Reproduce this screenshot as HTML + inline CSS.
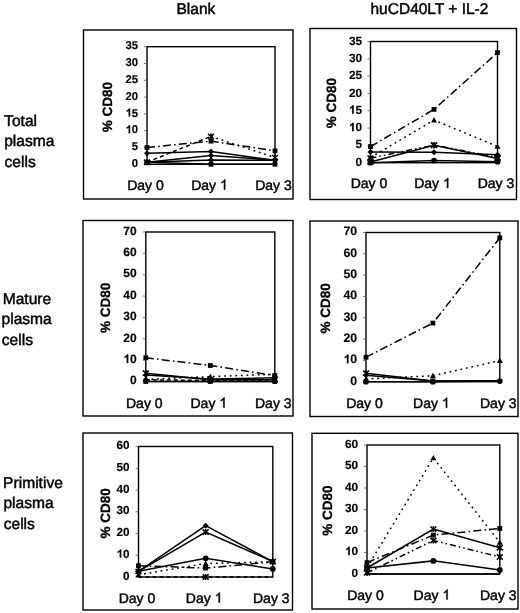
<!DOCTYPE html>
<html><head><meta charset="utf-8"><title>CD80 plasma cells</title>
<style>
html,body{margin:0;padding:0;background:#fff;}
body{width:520px;height:613px;overflow:hidden;}
svg{display:block;will-change:transform;}
text{font-family:"Liberation Sans", sans-serif;fill:#000;stroke:#000;stroke-width:0.45px;text-rendering:geometricPrecision;}
.hd{font-size:15.5px;}
.rl{font-size:15.6px;}
.xl{font-size:14px;text-anchor:middle;}
.yl{font-weight:bold;text-anchor:end;stroke-width:0.15px;}
.yt{font-size:13.5px;font-weight:bold;text-anchor:middle;stroke-width:0.3px;}
</style></head><body>
<svg width="520" height="613" viewBox="0 0 520 613">
<rect width="520" height="613" fill="#fff"/>

<text x="176.5" y="13.5" class="hd">Blank</text>
<text x="370.5" y="13.5" class="hd">huCD40LT + IL-2</text>
<text x="4.1" y="125.5" class="rl">Total</text>
<text x="4.2" y="146.1" class="rl">plasma</text>
<text x="4.5" y="166.9" class="rl">cells</text>
<text x="2.7" y="303.6" class="rl">Mature</text>
<text x="1.5" y="324.2" class="rl">plasma</text>
<text x="1.8" y="344.5" class="rl">cells</text>
<text x="3.1" y="487.9" class="rl">Primitive</text>
<text x="3.4" y="508.2" class="rl">plasma</text>
<text x="3.7" y="528.6" class="rl">cells</text>
<rect x="83.5" y="30" width="209.50" height="169.00" fill="none" stroke="#000" stroke-width="1.4"/>
<rect x="147" y="46.7" width="128.00" height="117.60" fill="none" stroke="#000" stroke-width="1.4"/>
<line x1="144.00" y1="164.30" x2="147.00" y2="164.30" stroke="#555" stroke-width="0.8"/>
<text x="138.10" y="166.90" class="yl" style="font-size:11.3px">0</text>
<line x1="144.00" y1="147.50" x2="147.00" y2="147.50" stroke="#555" stroke-width="0.8"/>
<text x="138.10" y="150.10" class="yl" style="font-size:11.3px">5</text>
<line x1="144.00" y1="130.70" x2="147.00" y2="130.70" stroke="#555" stroke-width="0.8"/>
<path d="M130.17 133.30L128.62 133.30L128.62 127.46Q127.77 128.25 126.62 128.63L126.62 127.23Q127.22 127.03 127.94 126.47Q128.65 125.92 128.91 125.18L130.17 125.18Z" fill="#000" stroke="#000" stroke-width="0.15"/>
<text x="138.10" y="133.30" class="yl" style="font-size:11.3px">0</text>
<line x1="144.00" y1="113.90" x2="147.00" y2="113.90" stroke="#555" stroke-width="0.8"/>
<path d="M130.17 116.50L128.62 116.50L128.62 110.66Q127.77 111.45 126.62 111.83L126.62 110.43Q127.22 110.23 127.94 109.67Q128.65 109.12 128.91 108.38L130.17 108.38Z" fill="#000" stroke="#000" stroke-width="0.15"/>
<text x="138.10" y="116.50" class="yl" style="font-size:11.3px">5</text>
<line x1="144.00" y1="97.10" x2="147.00" y2="97.10" stroke="#555" stroke-width="0.8"/>
<text x="138.10" y="99.70" class="yl" style="font-size:11.3px">20</text>
<line x1="144.00" y1="80.30" x2="147.00" y2="80.30" stroke="#555" stroke-width="0.8"/>
<text x="138.10" y="82.90" class="yl" style="font-size:11.3px">25</text>
<line x1="144.00" y1="63.50" x2="147.00" y2="63.50" stroke="#555" stroke-width="0.8"/>
<text x="138.10" y="66.10" class="yl" style="font-size:11.3px">30</text>
<line x1="144.00" y1="46.70" x2="147.00" y2="46.70" stroke="#555" stroke-width="0.8"/>
<text x="138.10" y="49.30" class="yl" style="font-size:11.3px">35</text>
<text x="145.50" y="189.60" class="xl">Day 0</text>
<text x="191.21" y="189.60" class="xl" style="text-anchor:start">Day </text>
<path d="M225.22 189.60L223.99 189.60L223.99 181.76Q223.54 182.18 222.82 182.61Q222.09 183.03 221.52 183.24L221.52 182.05Q222.56 181.57 223.33 180.88Q224.10 180.19 224.42 179.54L225.22 179.54Z" fill="#000" stroke="#000" stroke-width="0.45"/>
<text x="273.50" y="189.60" class="xl">Day 3</text>
<text transform="translate(107.00 107.00) rotate(-90)" x="0" y="4.8" class="yt">% CD80</text>
<polyline points="147.00,147.50 211.00,141.12 275.00,150.86" fill="none" stroke="#000" stroke-width="1.5" stroke-dasharray="8 3.2 1.6 3.2"/>
<rect x="144.60" y="145.10" width="4.80" height="4.80" fill="#000"/>
<rect x="208.60" y="138.72" width="4.80" height="4.80" fill="#000"/>
<rect x="272.60" y="148.46" width="4.80" height="4.80" fill="#000"/>
<polyline points="147.00,162.28 211.00,136.41" fill="none" stroke="#000" stroke-width="1.5" stroke-dasharray="4 3"/>
<polyline points="211.00,136.41 275.00,157.58" fill="none" stroke="#000" stroke-width="1.5" stroke-dasharray="1.8 3.8"/>
<path d="M144.00 159.68L150.00 164.88M150.00 159.68L144.00 164.88M147.00 159.28L147.00 165.28" stroke="#000" stroke-width="1.5" fill="none"/>
<path d="M208.00 133.81L214.00 139.01M214.00 133.81L208.00 139.01M211.00 133.41L211.00 139.41" stroke="#000" stroke-width="1.5" fill="none"/>
<path d="M272.00 154.98L278.00 160.18M278.00 154.98L272.00 160.18M275.00 154.58L275.00 160.58" stroke="#000" stroke-width="1.5" fill="none"/>
<polyline points="147.00,153.21 211.00,151.53 275.00,160.27" fill="none" stroke="#000" stroke-width="1.5"/>
<path d="M147.00 150.21L150.00 153.21L147.00 156.21L144.00 153.21Z" fill="#000"/>
<path d="M211.00 148.53L214.00 151.53L211.00 154.53L208.00 151.53Z" fill="#000"/>
<path d="M275.00 157.27L278.00 160.27L275.00 163.27L272.00 160.27Z" fill="#000"/>
<polyline points="147.00,162.28 211.00,155.56 275.00,160.27" fill="none" stroke="#000" stroke-width="1.5"/>
<path d="M147.00 159.28L150.00 162.28L147.00 165.28L144.00 162.28Z" fill="#000"/>
<path d="M211.00 152.56L214.00 155.56L211.00 158.56L208.00 155.56Z" fill="#000"/>
<path d="M275.00 157.27L278.00 160.27L275.00 163.27L272.00 160.27Z" fill="#000"/>
<polyline points="147.00,162.28 211.00,159.93 275.00,160.27" fill="none" stroke="#000" stroke-width="1.5"/>
<path d="M147.00 159.28L150.00 162.28L147.00 165.28L144.00 162.28Z" fill="#000"/>
<path d="M211.00 156.93L214.00 159.93L211.00 162.93L208.00 159.93Z" fill="#000"/>
<path d="M275.00 157.27L278.00 160.27L275.00 163.27L272.00 160.27Z" fill="#000"/>
<polyline points="147.00,162.28 211.00,164.30 275.00,164.30" fill="none" stroke="#000" stroke-width="1.5"/>
<rect x="144.60" y="159.88" width="4.80" height="4.80" fill="#000"/>
<rect x="208.60" y="161.90" width="4.80" height="4.80" fill="#000"/>
<rect x="272.60" y="161.90" width="4.80" height="4.80" fill="#000"/>
<rect x="310" y="28.5" width="206.50" height="171.00" fill="none" stroke="#000" stroke-width="1.4"/>
<rect x="370.5" y="41.5" width="127.00" height="121.20" fill="none" stroke="#000" stroke-width="1.4"/>
<line x1="367.50" y1="162.70" x2="370.50" y2="162.70" stroke="#555" stroke-width="0.8"/>
<text x="362.00" y="165.78" class="yl" style="font-size:11.8px">0</text>
<line x1="367.50" y1="145.39" x2="370.50" y2="145.39" stroke="#555" stroke-width="0.8"/>
<text x="362.00" y="148.46" class="yl" style="font-size:11.8px">5</text>
<line x1="367.50" y1="128.07" x2="370.50" y2="128.07" stroke="#555" stroke-width="0.8"/>
<path d="M353.72 131.15L352.10 131.15L352.10 125.05Q351.21 125.88 350.01 126.27L350.01 124.80Q350.64 124.60 351.39 124.02Q352.13 123.45 352.41 122.67L353.72 122.67Z" fill="#000" stroke="#000" stroke-width="0.15"/>
<text x="362.00" y="131.15" class="yl" style="font-size:11.8px">0</text>
<line x1="367.50" y1="110.76" x2="370.50" y2="110.76" stroke="#555" stroke-width="0.8"/>
<path d="M353.72 113.83L352.10 113.83L352.10 107.73Q351.21 108.56 350.01 108.96L350.01 107.49Q350.64 107.28 351.39 106.71Q352.13 106.13 352.41 105.35L353.72 105.35Z" fill="#000" stroke="#000" stroke-width="0.15"/>
<text x="362.00" y="113.83" class="yl" style="font-size:11.8px">5</text>
<line x1="367.50" y1="93.44" x2="370.50" y2="93.44" stroke="#555" stroke-width="0.8"/>
<text x="362.00" y="96.52" class="yl" style="font-size:11.8px">20</text>
<line x1="367.50" y1="76.13" x2="370.50" y2="76.13" stroke="#555" stroke-width="0.8"/>
<text x="362.00" y="79.21" class="yl" style="font-size:11.8px">25</text>
<line x1="367.50" y1="58.81" x2="370.50" y2="58.81" stroke="#555" stroke-width="0.8"/>
<text x="362.00" y="61.89" class="yl" style="font-size:11.8px">30</text>
<line x1="367.50" y1="41.50" x2="370.50" y2="41.50" stroke="#555" stroke-width="0.8"/>
<text x="362.00" y="44.58" class="yl" style="font-size:11.8px">35</text>
<text x="369.00" y="188.00" class="xl">Day 0</text>
<text x="414.21" y="188.00" class="xl" style="text-anchor:start">Day </text>
<path d="M448.22 188.00L446.99 188.00L446.99 180.16Q446.54 180.58 445.82 181.01Q445.09 181.43 444.52 181.64L444.52 180.45Q445.56 179.97 446.33 179.28Q447.10 178.59 447.42 177.94L448.22 177.94Z" fill="#000" stroke="#000" stroke-width="0.45"/>
<text x="496.00" y="188.00" class="xl">Day 3</text>
<text transform="translate(331.00 103.00) rotate(-90)" x="0" y="4.8" class="yt">% CD80</text>
<polyline points="370.50,146.60 434.00,109.37 497.50,52.58" fill="none" stroke="#000" stroke-width="1.5" stroke-dasharray="8 3.2 1.6 3.2"/>
<rect x="368.10" y="144.20" width="4.80" height="4.80" fill="#000"/>
<rect x="431.60" y="106.97" width="4.80" height="4.80" fill="#000"/>
<rect x="495.10" y="50.18" width="4.80" height="4.80" fill="#000"/>
<polyline points="370.50,157.51 434.00,120.11 497.50,146.42" fill="none" stroke="#000" stroke-width="1.5" stroke-dasharray="1.8 3.8"/>
<path d="M370.50 154.51L373.50 159.91L367.50 159.91Z" fill="#000"/>
<path d="M434.00 117.11L437.00 122.51L431.00 122.51Z" fill="#000"/>
<path d="M497.50 143.42L500.50 148.82L494.50 148.82Z" fill="#000"/>
<polyline points="370.50,158.20 434.00,145.04 497.50,157.51" fill="none" stroke="#000" stroke-width="1.5" stroke-dasharray="6 3 1.6 3 1.6 3"/>
<path d="M367.50 155.60L373.50 160.80M373.50 155.60L367.50 160.80M370.50 155.20L370.50 161.20" stroke="#000" stroke-width="1.5" fill="none"/>
<path d="M431.00 142.44L437.00 147.64M437.00 142.44L431.00 147.64M434.00 142.04L434.00 148.04" stroke="#000" stroke-width="1.5" fill="none"/>
<path d="M494.50 154.91L500.50 160.11M500.50 154.91L494.50 160.11M497.50 154.51L497.50 160.51" stroke="#000" stroke-width="1.5" fill="none"/>
<polyline points="370.50,151.97 434.00,152.31 497.50,154.74" fill="none" stroke="#000" stroke-width="1.5"/>
<path d="M370.50 148.97L373.50 151.97L370.50 154.97L367.50 151.97Z" fill="#000"/>
<path d="M434.00 149.31L437.00 152.31L434.00 155.31L431.00 152.31Z" fill="#000"/>
<path d="M497.50 151.74L500.50 154.74L497.50 157.74L494.50 154.74Z" fill="#000"/>
<polyline points="370.50,162.01 434.00,145.39 497.50,158.54" fill="none" stroke="#000" stroke-width="1.5"/>
<path d="M367.50 159.41L373.50 164.61M373.50 159.41L367.50 164.61M370.50 159.01L370.50 165.01" stroke="#000" stroke-width="1.5" fill="none"/>
<path d="M431.00 142.79L437.00 147.99M437.00 142.79L431.00 147.99M434.00 142.39L434.00 148.39" stroke="#000" stroke-width="1.5" fill="none"/>
<path d="M494.50 155.94L500.50 161.14M500.50 155.94L494.50 161.14M497.50 155.54L497.50 161.54" stroke="#000" stroke-width="1.5" fill="none"/>
<polyline points="370.50,162.70 434.00,160.62 497.50,161.66" fill="none" stroke="#000" stroke-width="1.5"/>
<circle cx="370.50" cy="162.70" r="2.9" fill="#000"/>
<circle cx="434.00" cy="160.62" r="2.9" fill="#000"/>
<circle cx="497.50" cy="161.66" r="2.9" fill="#000"/>
<rect x="83" y="220.5" width="210.00" height="195.50" fill="none" stroke="#000" stroke-width="1.4"/>
<rect x="145.8" y="232" width="129.00" height="149.50" fill="none" stroke="#000" stroke-width="1.4"/>
<line x1="142.80" y1="381.50" x2="145.80" y2="381.50" stroke="#555" stroke-width="0.8"/>
<text x="136.70" y="384.25" class="yl" style="font-size:12.0px">0</text>
<line x1="142.80" y1="360.14" x2="145.80" y2="360.14" stroke="#555" stroke-width="0.8"/>
<path d="M128.28 362.89L126.63 362.89L126.63 356.69Q125.73 357.53 124.51 357.93L124.51 356.44Q125.15 356.23 125.91 355.64Q126.66 355.06 126.94 354.27L128.28 354.27Z" fill="#000" stroke="#000" stroke-width="0.15"/>
<text x="136.70" y="362.89" class="yl" style="font-size:12.0px">0</text>
<line x1="142.80" y1="338.79" x2="145.80" y2="338.79" stroke="#555" stroke-width="0.8"/>
<text x="136.70" y="341.53" class="yl" style="font-size:12.0px">20</text>
<line x1="142.80" y1="317.43" x2="145.80" y2="317.43" stroke="#555" stroke-width="0.8"/>
<text x="136.70" y="320.18" class="yl" style="font-size:12.0px">30</text>
<line x1="142.80" y1="296.07" x2="145.80" y2="296.07" stroke="#555" stroke-width="0.8"/>
<text x="136.70" y="298.82" class="yl" style="font-size:12.0px">40</text>
<line x1="142.80" y1="274.71" x2="145.80" y2="274.71" stroke="#555" stroke-width="0.8"/>
<text x="136.70" y="277.46" class="yl" style="font-size:12.0px">50</text>
<line x1="142.80" y1="253.36" x2="145.80" y2="253.36" stroke="#555" stroke-width="0.8"/>
<text x="136.70" y="256.11" class="yl" style="font-size:12.0px">60</text>
<line x1="142.80" y1="232.00" x2="145.80" y2="232.00" stroke="#555" stroke-width="0.8"/>
<text x="136.70" y="234.75" class="yl" style="font-size:12.0px">70</text>
<text x="144.30" y="407.50" class="xl">Day 0</text>
<text x="190.51" y="407.50" class="xl" style="text-anchor:start">Day </text>
<path d="M224.52 407.50L223.29 407.50L223.29 399.66Q222.84 400.08 222.12 400.51Q221.39 400.93 220.82 401.14L220.82 399.95Q221.86 399.47 222.63 398.78Q223.40 398.09 223.72 397.44L224.52 397.44Z" fill="#000" stroke="#000" stroke-width="0.45"/>
<text x="273.30" y="407.50" class="xl">Day 3</text>
<text transform="translate(105.50 307.80) rotate(-90)" x="0" y="4.8" class="yt">% CD80</text>
<polyline points="145.80,357.79 210.30,365.48 274.80,375.52" fill="none" stroke="#000" stroke-width="1.5" stroke-dasharray="8 3.2 1.6 3.2"/>
<rect x="143.40" y="355.39" width="4.80" height="4.80" fill="#000"/>
<rect x="207.90" y="363.08" width="4.80" height="4.80" fill="#000"/>
<rect x="272.40" y="373.12" width="4.80" height="4.80" fill="#000"/>
<polyline points="145.80,379.36 210.30,376.59 274.80,374.24" fill="none" stroke="#000" stroke-width="1.5" stroke-dasharray="1.8 3.8"/>
<path d="M145.80 376.36L148.80 381.76L142.80 381.76Z" fill="#000"/>
<path d="M210.30 373.59L213.30 378.99L207.30 378.99Z" fill="#000"/>
<path d="M274.80 371.24L277.80 376.64L271.80 376.64Z" fill="#000"/>
<polyline points="145.80,373.17 210.30,379.79 274.80,379.79" fill="none" stroke="#000" stroke-width="1.5"/>
<path d="M142.80 370.57L148.80 375.77M148.80 370.57L142.80 375.77M145.80 370.17L145.80 376.17" stroke="#000" stroke-width="1.5" fill="none"/>
<path d="M207.30 377.19L213.30 382.39M213.30 377.19L207.30 382.39M210.30 376.79L210.30 382.79" stroke="#000" stroke-width="1.5" fill="none"/>
<path d="M271.80 377.19L277.80 382.39M277.80 377.19L271.80 382.39M274.80 376.79L274.80 382.79" stroke="#000" stroke-width="1.5" fill="none"/>
<polyline points="145.80,375.09 210.30,378.94 274.80,377.87" fill="none" stroke="#000" stroke-width="1.5"/>
<path d="M145.80 372.09L148.80 375.09L145.80 378.09L142.80 375.09Z" fill="#000"/>
<path d="M210.30 375.94L213.30 378.94L210.30 381.94L207.30 378.94Z" fill="#000"/>
<path d="M274.80 374.87L277.80 377.87L274.80 380.87L271.80 377.87Z" fill="#000"/>
<polyline points="145.80,379.79 210.30,380.43 274.80,380.65" fill="none" stroke="#000" stroke-width="1.5" stroke-dasharray="4 3"/>
<path d="M145.80 376.79L148.80 379.79L145.80 382.79L142.80 379.79Z" fill="#000"/>
<path d="M210.30 377.43L213.30 380.43L210.30 383.43L207.30 380.43Z" fill="#000"/>
<path d="M274.80 377.65L277.80 380.65L274.80 383.65L271.80 380.65Z" fill="#000"/>
<polyline points="145.80,381.50 210.30,381.50 274.80,381.50" fill="none" stroke="#000" stroke-width="1.5"/>
<rect x="143.40" y="379.10" width="4.80" height="4.80" fill="#000"/>
<rect x="207.90" y="379.10" width="4.80" height="4.80" fill="#000"/>
<rect x="272.40" y="379.10" width="4.80" height="4.80" fill="#000"/>
<rect x="310" y="221" width="208.00" height="195.50" fill="none" stroke="#000" stroke-width="1.4"/>
<rect x="366" y="232.5" width="133.80" height="149.20" fill="none" stroke="#000" stroke-width="1.4"/>
<line x1="363.00" y1="381.70" x2="366.00" y2="381.70" stroke="#555" stroke-width="0.8"/>
<text x="357.20" y="384.65" class="yl" style="font-size:12.3px">0</text>
<line x1="363.00" y1="360.39" x2="366.00" y2="360.39" stroke="#555" stroke-width="0.8"/>
<path d="M348.57 363.34L346.88 363.34L346.88 356.98Q345.96 357.84 344.70 358.26L344.70 356.73Q345.36 356.51 346.14 355.91Q346.91 355.31 347.20 354.50L348.57 354.50Z" fill="#000" stroke="#000" stroke-width="0.15"/>
<text x="357.20" y="363.34" class="yl" style="font-size:12.3px">0</text>
<line x1="363.00" y1="339.07" x2="366.00" y2="339.07" stroke="#555" stroke-width="0.8"/>
<text x="357.20" y="342.03" class="yl" style="font-size:12.3px">20</text>
<line x1="363.00" y1="317.76" x2="366.00" y2="317.76" stroke="#555" stroke-width="0.8"/>
<text x="357.20" y="320.71" class="yl" style="font-size:12.3px">30</text>
<line x1="363.00" y1="296.44" x2="366.00" y2="296.44" stroke="#555" stroke-width="0.8"/>
<text x="357.20" y="299.40" class="yl" style="font-size:12.3px">40</text>
<line x1="363.00" y1="275.13" x2="366.00" y2="275.13" stroke="#555" stroke-width="0.8"/>
<text x="357.20" y="278.08" class="yl" style="font-size:12.3px">50</text>
<line x1="363.00" y1="253.81" x2="366.00" y2="253.81" stroke="#555" stroke-width="0.8"/>
<text x="357.20" y="256.77" class="yl" style="font-size:12.3px">60</text>
<line x1="363.00" y1="232.50" x2="366.00" y2="232.50" stroke="#555" stroke-width="0.8"/>
<text x="357.20" y="235.45" class="yl" style="font-size:12.3px">70</text>
<text x="364.50" y="407.70" class="xl">Day 0</text>
<text x="413.11" y="407.70" class="xl" style="text-anchor:start">Day </text>
<path d="M447.12 407.70L445.89 407.70L445.89 399.86Q445.44 400.28 444.72 400.71Q443.99 401.13 443.42 401.34L443.42 400.15Q444.46 399.67 445.23 398.98Q446.00 398.29 446.32 397.64L447.12 397.64Z" fill="#000" stroke="#000" stroke-width="0.45"/>
<text x="498.30" y="407.70" class="xl">Day 3</text>
<text transform="translate(325.50 308.40) rotate(-90)" x="0" y="4.8" class="yt">% CD80</text>
<polyline points="366.00,357.19 432.90,323.09 499.80,237.83" fill="none" stroke="#000" stroke-width="1.5" stroke-dasharray="8 3.2 1.6 3.2"/>
<rect x="363.60" y="354.79" width="4.80" height="4.80" fill="#000"/>
<rect x="430.50" y="320.69" width="4.80" height="4.80" fill="#000"/>
<rect x="497.40" y="235.43" width="4.80" height="4.80" fill="#000"/>
<polyline points="366.00,378.93 432.90,375.73 499.80,360.60" fill="none" stroke="#000" stroke-width="1.5" stroke-dasharray="1.8 3.8"/>
<path d="M366.00 375.93L369.00 381.33L363.00 381.33Z" fill="#000"/>
<path d="M432.90 372.73L435.90 378.13L429.90 378.13Z" fill="#000"/>
<path d="M499.80 357.60L502.80 363.00L496.80 363.00Z" fill="#000"/>
<polyline points="366.00,373.17 432.90,381.06 499.80,381.06" fill="none" stroke="#000" stroke-width="1.5"/>
<path d="M363.00 370.57L369.00 375.77M369.00 370.57L363.00 375.77M366.00 370.17L366.00 376.17" stroke="#000" stroke-width="1.5" fill="none"/>


<polyline points="366.00,375.31 432.90,381.06 499.80,381.06" fill="none" stroke="#000" stroke-width="1.5"/>
<path d="M366.00 372.31L369.00 375.31L366.00 378.31L363.00 375.31Z" fill="#000"/>
<rect x="430.50" y="378.66" width="4.80" height="4.80" fill="#000"/>

<polyline points="366.00,381.70 432.90,381.70 499.80,381.06" fill="none" stroke="#000" stroke-width="1.5"/>
<circle cx="366.00" cy="381.70" r="2.9" fill="#000"/>
<circle cx="432.90" cy="381.70" r="2.9" fill="#000"/>
<circle cx="499.80" cy="381.06" r="2.9" fill="#000"/>
<rect x="83" y="433" width="209.50" height="177.00" fill="none" stroke="#000" stroke-width="1.4"/>
<rect x="138.5" y="446.5" width="134.30" height="130.50" fill="none" stroke="#000" stroke-width="1.4"/>
<line x1="135.50" y1="577.00" x2="138.50" y2="577.00" stroke="#555" stroke-width="0.8"/>
<text x="129.50" y="579.54" class="yl" style="font-size:11.7px">0</text>
<line x1="135.50" y1="555.25" x2="138.50" y2="555.25" stroke="#555" stroke-width="0.8"/>
<path d="M121.29 557.79L119.69 557.79L119.69 551.74Q118.81 552.56 117.61 552.96L117.61 551.50Q118.24 551.30 118.98 550.72Q119.71 550.15 119.99 549.38L121.29 549.38Z" fill="#000" stroke="#000" stroke-width="0.15"/>
<text x="129.50" y="557.79" class="yl" style="font-size:11.7px">0</text>
<line x1="135.50" y1="533.50" x2="138.50" y2="533.50" stroke="#555" stroke-width="0.8"/>
<text x="129.50" y="536.04" class="yl" style="font-size:11.7px">20</text>
<line x1="135.50" y1="511.75" x2="138.50" y2="511.75" stroke="#555" stroke-width="0.8"/>
<text x="129.50" y="514.29" class="yl" style="font-size:11.7px">30</text>
<line x1="135.50" y1="490.00" x2="138.50" y2="490.00" stroke="#555" stroke-width="0.8"/>
<text x="129.50" y="492.54" class="yl" style="font-size:11.7px">40</text>
<line x1="135.50" y1="468.25" x2="138.50" y2="468.25" stroke="#555" stroke-width="0.8"/>
<text x="129.50" y="470.79" class="yl" style="font-size:11.7px">50</text>
<line x1="135.50" y1="446.50" x2="138.50" y2="446.50" stroke="#555" stroke-width="0.8"/>
<text x="129.50" y="449.04" class="yl" style="font-size:11.7px">60</text>
<text x="137.00" y="602.60" class="xl">Day 0</text>
<text x="185.86" y="602.60" class="xl" style="text-anchor:start">Day </text>
<path d="M219.87 602.60L218.64 602.60L218.64 594.76Q218.19 595.18 217.47 595.61Q216.74 596.03 216.17 596.24L216.17 595.05Q217.21 594.57 217.98 593.88Q218.75 593.19 219.07 592.54L219.87 592.54Z" fill="#000" stroke="#000" stroke-width="0.45"/>
<text x="271.30" y="602.60" class="xl">Day 3</text>
<text transform="translate(105.50 513.40) rotate(-90)" x="0" y="4.8" class="yt">% CD80</text>
<polyline points="138.50,571.35 205.65,525.67 272.80,561.56" fill="none" stroke="#000" stroke-width="1.5"/>
<path d="M138.50 568.35L141.50 571.35L138.50 574.35L135.50 571.35Z" fill="#000"/>
<path d="M205.65 522.67L208.65 525.67L205.65 528.67L202.65 525.67Z" fill="#000"/>
<path d="M272.80 558.56L275.80 561.56L272.80 564.56L269.80 561.56Z" fill="#000"/>
<polyline points="138.50,571.35 205.65,531.98 272.80,561.56" fill="none" stroke="#000" stroke-width="1.5"/>
<path d="M135.50 568.75L141.50 573.95M141.50 568.75L135.50 573.95M138.50 568.35L138.50 574.35" stroke="#000" stroke-width="1.5" fill="none"/>
<path d="M202.65 529.38L208.65 534.58M208.65 529.38L202.65 534.58M205.65 528.98L205.65 534.98" stroke="#000" stroke-width="1.5" fill="none"/>
<path d="M269.80 558.96L275.80 564.16M275.80 558.96L269.80 564.16M272.80 558.56L272.80 564.56" stroke="#000" stroke-width="1.5" fill="none"/>
<polyline points="138.50,571.35 205.65,558.29 272.80,568.95" fill="none" stroke="#000" stroke-width="1.5"/>
<circle cx="138.50" cy="571.35" r="2.9" fill="#000"/>
<circle cx="205.65" cy="558.29" r="2.9" fill="#000"/>
<circle cx="272.80" cy="568.95" r="2.9" fill="#000"/>
<polyline points="138.50,574.83 205.65,563.51 272.80,561.77" fill="none" stroke="#000" stroke-width="1.5" stroke-dasharray="1.8 3.8"/>
<path d="M138.50 571.83L141.50 577.23L135.50 577.23Z" fill="#000"/>
<path d="M205.65 560.51L208.65 565.91L202.65 565.91Z" fill="#000"/>
<path d="M272.80 558.77L275.80 564.17L269.80 564.17Z" fill="#000"/>
<polyline points="138.50,565.69 205.65,568.08 272.80,561.77" fill="none" stroke="#000" stroke-width="1.5" stroke-dasharray="8 3.2 1.6 3.2"/>
<rect x="136.10" y="563.29" width="4.80" height="4.80" fill="#000"/>
<rect x="203.25" y="565.68" width="4.80" height="4.80" fill="#000"/>
<rect x="270.40" y="559.38" width="4.80" height="4.80" fill="#000"/>
<polyline points="138.50,577.00 205.65,577.00 272.80,577.00" fill="none" stroke="#000" stroke-width="1.5" stroke-dasharray="4 3"/>

<path d="M202.65 574.40L208.65 579.60M208.65 574.40L202.65 579.60M205.65 574.00L205.65 580.00" stroke="#000" stroke-width="1.5" fill="none"/>

<rect x="312" y="433.3" width="206.00" height="175.70" fill="none" stroke="#000" stroke-width="1.4"/>
<rect x="367" y="445" width="132.80" height="129.00" fill="none" stroke="#000" stroke-width="1.4"/>
<line x1="364.00" y1="574.00" x2="367.00" y2="574.00" stroke="#555" stroke-width="0.8"/>
<text x="358.10" y="576.68" class="yl" style="font-size:11.8px">0</text>
<line x1="364.00" y1="552.50" x2="367.00" y2="552.50" stroke="#555" stroke-width="0.8"/>
<path d="M349.82 555.18L348.20 555.18L348.20 549.08Q347.31 549.91 346.11 550.30L346.11 548.83Q346.74 548.63 347.49 548.05Q348.23 547.47 348.51 546.70L349.82 546.70Z" fill="#000" stroke="#000" stroke-width="0.15"/>
<text x="358.10" y="555.18" class="yl" style="font-size:11.8px">0</text>
<line x1="364.00" y1="531.00" x2="367.00" y2="531.00" stroke="#555" stroke-width="0.8"/>
<text x="358.10" y="533.68" class="yl" style="font-size:11.8px">20</text>
<line x1="364.00" y1="509.50" x2="367.00" y2="509.50" stroke="#555" stroke-width="0.8"/>
<text x="358.10" y="512.18" class="yl" style="font-size:11.8px">30</text>
<line x1="364.00" y1="488.00" x2="367.00" y2="488.00" stroke="#555" stroke-width="0.8"/>
<text x="358.10" y="490.68" class="yl" style="font-size:11.8px">40</text>
<line x1="364.00" y1="466.50" x2="367.00" y2="466.50" stroke="#555" stroke-width="0.8"/>
<text x="358.10" y="469.18" class="yl" style="font-size:11.8px">50</text>
<line x1="364.00" y1="445.00" x2="367.00" y2="445.00" stroke="#555" stroke-width="0.8"/>
<text x="358.10" y="447.68" class="yl" style="font-size:11.8px">60</text>
<text x="365.50" y="599.60" class="xl">Day 0</text>
<text x="413.61" y="599.60" class="xl" style="text-anchor:start">Day </text>
<path d="M447.62 599.60L446.39 599.60L446.39 591.76Q445.94 592.18 445.22 592.61Q444.49 593.03 443.92 593.24L443.92 592.05Q444.96 591.57 445.73 590.88Q446.50 590.19 446.82 589.54L447.62 589.54Z" fill="#000" stroke="#000" stroke-width="0.45"/>
<text x="498.30" y="599.60" class="xl">Day 3</text>
<text transform="translate(327.40 510.50) rotate(-90)" x="0" y="4.8" class="yt">% CD80</text>
<polyline points="367.00,567.55 433.40,457.90 499.80,542.39" fill="none" stroke="#000" stroke-width="1.5" stroke-dasharray="1.8 3.8"/>
<path d="M367.00 564.55L370.00 569.95L364.00 569.95Z" fill="#000"/>
<path d="M433.40 454.90L436.40 460.30L430.40 460.30Z" fill="#000"/>
<path d="M499.80 539.39L502.80 544.79L496.80 544.79Z" fill="#000"/>
<polyline points="367.00,562.61 433.40,535.09 499.80,528.42" fill="none" stroke="#000" stroke-width="1.5" stroke-dasharray="8 3.2 1.6 3.2"/>
<rect x="364.60" y="560.21" width="4.80" height="4.80" fill="#000"/>
<rect x="431.00" y="532.69" width="4.80" height="4.80" fill="#000"/>
<rect x="497.40" y="526.02" width="4.80" height="4.80" fill="#000"/>
<polyline points="367.00,567.98 433.40,529.07 499.80,547.77" fill="none" stroke="#000" stroke-width="1.5"/>
<path d="M364.00 565.38L370.00 570.58M370.00 565.38L364.00 570.58M367.00 564.98L367.00 570.98" stroke="#000" stroke-width="1.5" fill="none"/>
<path d="M430.40 526.47L436.40 531.67M436.40 526.47L430.40 531.67M433.40 526.07L433.40 532.07" stroke="#000" stroke-width="1.5" fill="none"/>
<path d="M496.80 545.17L502.80 550.37M502.80 545.17L496.80 550.37M499.80 544.77L499.80 550.77" stroke="#000" stroke-width="1.5" fill="none"/>
<polyline points="367.00,572.92 433.40,540.46 499.80,557.01" fill="none" stroke="#000" stroke-width="1.5" stroke-dasharray="6 3 1.6 3 1.6 3"/>
<path d="M364.00 570.32L370.00 575.52M370.00 570.32L364.00 575.52M367.00 569.92L367.00 575.92" stroke="#000" stroke-width="1.5" fill="none"/>
<path d="M430.40 537.86L436.40 543.06M436.40 537.86L430.40 543.06M433.40 537.46L433.40 543.46" stroke="#000" stroke-width="1.5" fill="none"/>
<path d="M496.80 554.41L502.80 559.62M502.80 554.41L496.80 559.62M499.80 554.01L499.80 560.01" stroke="#000" stroke-width="1.5" fill="none"/>
<polyline points="367.00,567.98 433.40,560.88 499.80,569.91" fill="none" stroke="#000" stroke-width="1.5"/>
<circle cx="367.00" cy="567.98" r="2.9" fill="#000"/>
<circle cx="433.40" cy="560.88" r="2.9" fill="#000"/>
<circle cx="499.80" cy="569.91" r="2.9" fill="#000"/>
<polyline points="367.00,574.00 433.40,574.00 499.80,574.00" fill="none" stroke="#000" stroke-width="1.5"/>



</svg>
</body></html>
